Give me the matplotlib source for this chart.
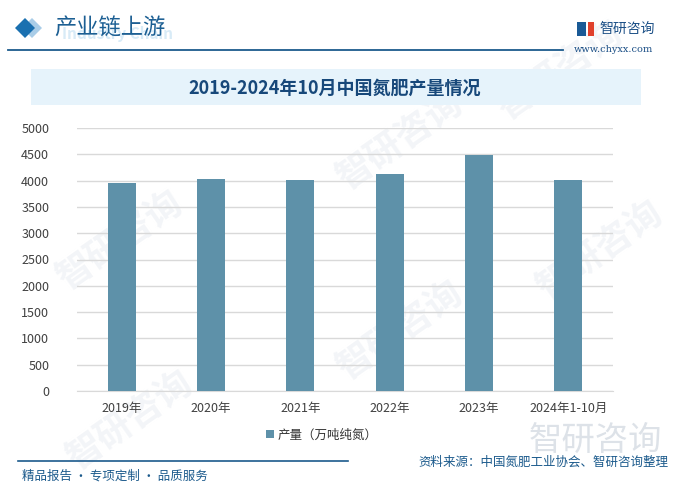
import matplotlib
matplotlib.use('Agg')
import matplotlib.pyplot as plt
import matplotlib.patches as patches

plt.rcParams['font.family'] = ['Noto Sans CJK SC', 'DejaVu Sans']

# Data
categories = ['2019年', '2020年', '2021年', '2022年', '2023年', '2024年1-10月']
output = [3963, 4034, 4015, 4125, 4490, 4012]
yticks = [0, 500, 1000, 1500, 2000, 2500, 3000, 3500, 4000, 4500, 5000]

W, H = 681, 498
fig = plt.figure(figsize=(W / 100, H / 100), dpi=100)
fig.patch.set_facecolor('white')

def fx(px):
    return px / W

def fy(py):
    return 1 - py / H

dark_blue = '#1b5a8c'
bar_color = '#5e91a9'

# background layer for header / footer decorations
bg = fig.add_axes([0, 0, 1, 1])
bg.set_xlim(0, W)
bg.set_ylim(H, 0)
bg.axis('off')

# faint watermarks
for (wx, wy) in [(120, 240), (400, 140), (400, 330), (600, 250), (130, 420), (560, 70)]:
    bg.text(wx, wy, '智研咨询', fontsize=26, color='#f3f5f8', rotation=35,
            ha='center', va='center', fontweight='bold', zorder=0)

# header diamonds
bg.add_patch(patches.Polygon([(32, 18), (42, 28), (32, 38), (22, 28)], closed=True,
                             facecolor='#a9cde8', edgecolor='none'))
bg.add_patch(patches.Polygon([(25, 18), (35, 28), (25, 38), (15, 28)], closed=True,
                             facecolor='#1a70b0', edgecolor='none'))
bg.text(62, 34, 'Industry Chain', fontsize=11, color='#d8ebf7', fontweight='bold',
        ha='left', va='center', zorder=1)
bg.text(54, 28, '产业链上游', fontsize=16, color='#1c5f93', ha='left', va='center', zorder=2)
bg.plot([8, 563], [49.5, 49.5], color=dark_blue, lw=1.3)

# logo
bg.add_patch(patches.Rectangle((577, 22), 9, 14, facecolor='#1a5a96', edgecolor='none'))
bg.add_patch(patches.Rectangle((588, 22), 6, 14, facecolor='#e0412c', edgecolor='none'))
bg.text(599, 29, '智研咨询', fontsize=10, color='#1b4f86', ha='left', va='center')
bg.text(613, 49, 'www.chyxx.com', fontsize=7, color='#1b4f86', ha='center', va='center',
        family='DejaVu Serif')

# title box
bg.add_patch(patches.Rectangle((31, 69), 610, 36, facecolor='#e6f3fb', edgecolor='none'))
bg.text(335, 88, '2019-2024年10月中国氮肥产量情况', fontsize=13, color='#17487a',
        ha='center', va='center', fontweight='bold')

# footer
bg.plot([18, 348], [461, 461], color=dark_blue, lw=1.2)
bg.text(22, 476, '精品报告 · 专项定制 · 品质服务', fontsize=9, color=dark_blue,
        ha='left', va='center')
bg.text(668, 462, '资料来源：中国氮肥工业协会、智研咨询整理', fontsize=9, color=dark_blue,
        ha='right', va='center', zorder=3)
bg.text(595, 440, '智研咨询', fontsize=24, color='#dde2e8', ha='center', va='center', zorder=0)

# main chart axes
left, right, top, bottom = 77, 613, 128, 391
ax = fig.add_axes([fx(left), fy(bottom), fx(right - left), (bottom - top) / H])
ax.patch.set_alpha(0)
x = list(range(len(categories)))
ax.bar(x, output, width=0.31, color=bar_color, zorder=3)
ax.set_xlim(-0.5, len(categories) - 0.5)
ax.set_ylim(0, 5000)
ax.set_yticks(yticks)
ax.set_xticks(x)
ax.set_xticklabels(categories)
ax.grid(axis='y', color='#d9d9d9', lw=1, zorder=0)
for s in ['top', 'right', 'left']:
    ax.spines[s].set_visible(False)
ax.spines['bottom'].set_color('#d9d9d9')
ax.tick_params(axis='both', length=0, labelsize=9, colors='#404040')
ax.tick_params(axis='x', pad=8)
ax.tick_params(axis='y', pad=20)

# legend
handle = patches.Patch(facecolor=bar_color, edgecolor='none')
fig.legend([handle], ['产量（万吨纯氮）'], loc='center', bbox_to_anchor=(fx(322), fy(435)),
           frameon=False, fontsize=9, handlelength=0.6, handleheight=0.6,
           handletextpad=0.3, labelcolor='#333333')

fig.savefig('out.png', dpi=100, facecolor='white')
plt.close(fig)
